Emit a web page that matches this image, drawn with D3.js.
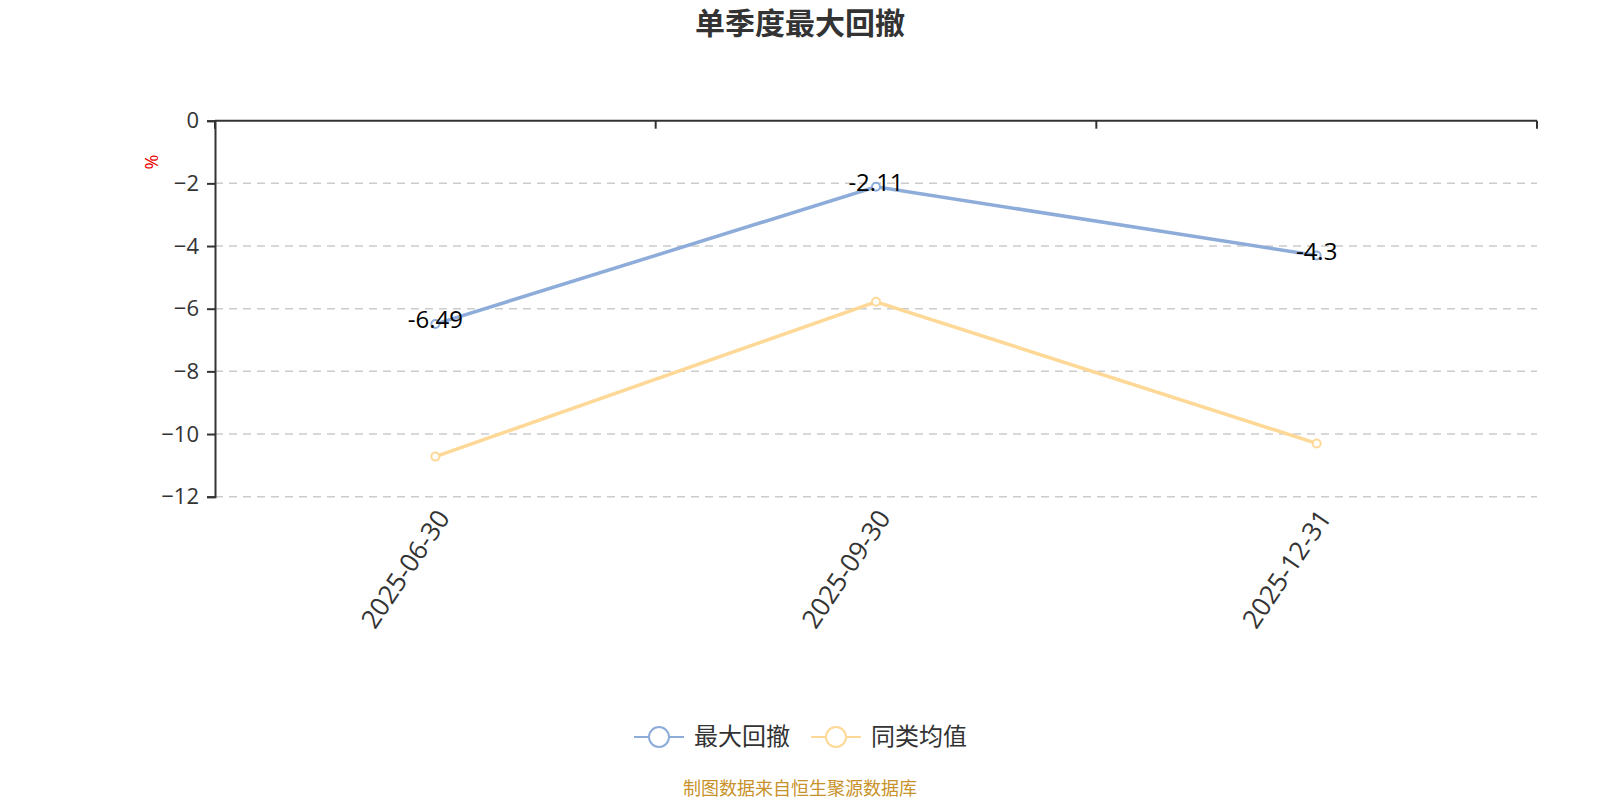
<!DOCTYPE html>
<html><head><meta charset="utf-8">
<script src="https://cdn.jsdelivr.net/npm/d3@7"></script>
<style>
html,body{margin:0;padding:0;background:#fff;}
svg text{font-family:"Open Sans","Noto Sans CJK SC",sans-serif;}
</style></head>
<body><svg id="c" width="1600" height="800"></svg>
<script>
const categories = ["2025-06-30","2025-09-30","2025-12-31"];
const maxDrawdown = [-6.49,-2.11,-4.3];
const peerAverage = [-10.72,-5.78,-10.3];
const yTicks = [0,-2,-4,-6,-8,-10,-12];
const seriesNames = ["最大回撤","同类均值"];
const colors = ["#8eacd9","#fdd896"];

const svg = d3.select("#c");
const L=215, R=1537, T=120.7, B=496.7;
const x = d3.scaleBand().domain(categories).range([L,R]);
const y = d3.scaleLinear().domain([-12,0]).range([B,T]);

// title
svg.append("text").attr("x",800).attr("y",23).attr("dy","0.36em").attr("text-anchor","middle")
  .attr("font-size",30).attr("font-weight","bold").attr("fill","#333")
  .style("font-family","'Noto Sans CJK SC',sans-serif").text("单季度最大回撤");

// grid
svg.append("g").selectAll("line").data(yTicks.filter(d=>d!==0)).join("line")
  .attr("x1",L).attr("x2",R).attr("y1",d=>y(d)).attr("y2",d=>y(d))
  .attr("stroke","#ccc").attr("stroke-width",1.5).attr("stroke-dasharray","8,6");

// y axis
const ya = svg.append("g").attr("transform",`translate(${L},0)`)
  .call(d3.axisLeft(y).tickValues(yTicks).tickSize(8).tickPadding(8).tickFormat(d3.format("d")));
ya.select(".domain").attr("stroke","#333").attr("stroke-width",2);
ya.selectAll(".tick line").attr("stroke","#333").attr("stroke-width",2);
ya.selectAll(".tick text").attr("font-size",22).attr("fill","#333");

// x axis at zero (top)
const xa = svg.append("g").attr("transform",`translate(0,${y(0)})`);
xa.append("line").attr("x1",L).attr("x2",R).attr("stroke","#333").attr("stroke-width",2);
const edges = categories.map(c=>x(c)).concat([R]);
xa.selectAll("line.tk").data(edges).join("line").attr("class","tk")
  .attr("x1",d=>d).attr("x2",d=>d).attr("y1",0).attr("y2",8)
  .attr("stroke","#333").attr("stroke-width",2);

// x labels rotated
svg.append("g").selectAll("text").data(categories).join("text")
  .attr("transform",d=>`translate(${x(d)+x.bandwidth()/2+8},${B+16}) rotate(-56)`)
  .attr("text-anchor","end").attr("dy","0.35em").attr("font-size",26).attr("fill","#333").text(d=>d);

// y unit label
svg.append("text").attr("transform","translate(152,162) rotate(-90)").attr("text-anchor","middle")
  .attr("dy","0.35em").attr("font-size",18).attr("fill","#e00").text("%");

const cx = d=>x(d)+x.bandwidth()/2;
const line = d3.line().x((d,i)=>cx(categories[i])).y(d=>y(d));
[maxDrawdown,peerAverage].forEach((arr,k)=>{
  svg.append("path").datum(arr).attr("d",line).attr("fill","none")
    .attr("stroke",colors[k]).attr("stroke-width",3.5);
  svg.append("g").selectAll("circle").data(arr).join("circle")
    .attr("cx",(d,i)=>cx(categories[i])).attr("cy",d=>y(d)).attr("r",4)
    .attr("fill","#fff").attr("stroke",colors[k]).attr("stroke-width",2);
});
// data labels (max drawdown)
svg.append("g").selectAll("text").data(maxDrawdown).join("text")
  .attr("x",(d,i)=>cx(categories[i])).attr("y",d=>y(d)-4).attr("dy","0.35em")
  .attr("text-anchor","middle").attr("font-size",24).attr("fill","#000").text(d=>d);

// legend
const lg = svg.append("g");
const lx = [634,811];
seriesNames.forEach((n,k)=>{
  const g = lg.append("g").attr("transform",`translate(${lx[k]},737)`);
  g.append("line").attr("x1",0).attr("x2",50).attr("stroke",colors[k]).attr("stroke-width",2);
  g.append("circle").attr("cx",25).attr("cy",0).attr("r",10).attr("fill","#fff").attr("stroke",colors[k]).attr("stroke-width",2);
  g.append("text").attr("x",60).attr("dy","0.35em").attr("font-size",24).attr("fill","#333")
    .style("font-family","'Noto Sans CJK SC',sans-serif").text(n);
});

svg.append("text").attr("x",800).attr("y",789).attr("dy","0.35em").attr("text-anchor","middle")
  .attr("font-size",18).attr("fill","#c8922a").style("font-family","'Noto Sans CJK SC',sans-serif")
  .text("制图数据来自恒生聚源数据库");
</script></body></html>
